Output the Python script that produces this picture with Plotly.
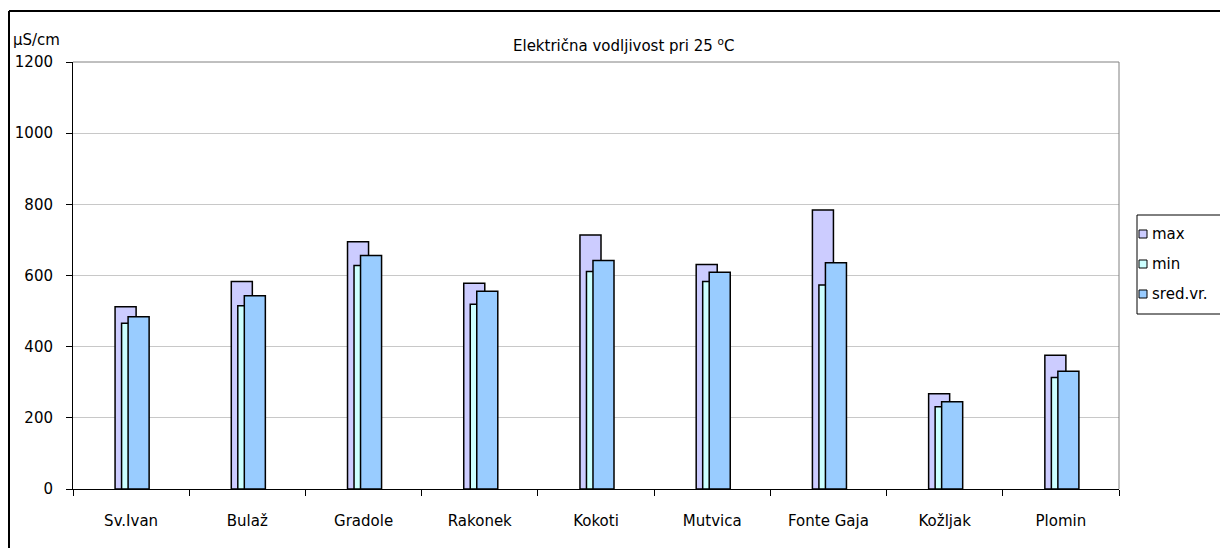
import plotly.graph_objects as go

categories = ["Sv.Ivan", "Bulaž", "Gradole", "Rakonek", "Kokoti", "Mutvica", "Fonte Gaja", "Kožljak", "Plomin"]
max_vals = [512, 583, 695, 578, 714, 631, 784, 268, 376]
min_vals = [466, 515, 628, 519, 611, 583, 573, 231, 313]
avg_vals = [484, 543, 656, 556, 642, 609, 636, 245, 331]
series_names = ["max", "min", "sred.vr."]
colors = ["#CCCCFF", "#CCFFFF", "#99CCFF"]
y_ticks = [0, 200, 400, 600, 800, 1000, 1200]

# page has an 8px body margin; work in reference pixel coords and shift
SH = 8
W, H = 1228 - SH, 548 - SH
L, R, T, B = 73 - SH, 1119 - SH, 62 - SH, 489 - SH


def px(x):
    return (x - SH - L) / (R - L)


def py(y):
    return (B - (y - SH)) / (B - T)


FONT = "DejaVu Sans"
FS = 15
fig = go.Figure()
bar_w = 0.181
offsets = [-0.138, -0.082, -0.026]
for name, vals, col, off in zip(series_names, [max_vals, min_vals, avg_vals], colors, offsets):
    fig.add_trace(go.Bar(
        x=categories, y=vals, name=name, width=bar_w, offset=off,
        marker=dict(color=col, line=dict(color="#000000", width=1.5)),
        showlegend=False,
    ))


def line(x0, y0, x1, y1, color="#000000", width=1):
    return dict(type="line", xref="paper", yref="paper", x0=px(x0), x1=px(x1),
                y0=py(y0), y1=py(y1), line=dict(color=color, width=width))


shapes = [
    # plot area frame top and right (gray)
    dict(type="line", xref="paper", yref="paper", x0=0, x1=1, y0=1, y1=1,
         line=dict(color="#808080", width=1)),
    dict(type="line", xref="paper", yref="paper", x0=1, x1=1, y0=0, y1=1,
         line=dict(color="#808080", width=1)),
    # outer chart border
    line(9, 11, 1240, 11, width=2),
    line(9, 11, 9, 560, width=2),
    # legend box (open on the right, it runs off the image)
    line(1137, 215, 1240, 215),
    line(1137, 314, 1240, 314),
    line(1137, 215, 1137, 314),
]
annotations = [
    dict(text="Električna vodljivost pri 25 <sup>o</sup>C", x=px(624), y=py(45),
         xref="paper", yref="paper", showarrow=False, font=dict(size=FS),
         xanchor="center", yanchor="middle"),
    dict(text="µS/cm", x=px(11), y=py(40), xref="paper", yref="paper",
         showarrow=False, font=dict(size=FS), xanchor="left", yanchor="middle"),
]
leg_y = [234, 264, 294]
for name, col, yy in zip(series_names, colors, leg_y):
    shapes.append(dict(type="rect", xref="paper", yref="paper",
                       x0=px(1139), x1=px(1147), y0=py(yy + 4), y1=py(yy - 4),
                       line=dict(color="#000000", width=1), fillcolor=col))
    annotations.append(dict(text=name, x=px(1150), y=py(yy), xref="paper", yref="paper",
                            showarrow=False, font=dict(size=FS), xanchor="left",
                            yanchor="middle"))

fig.update_layout(
    width=W, height=H,
    margin=dict(l=L, r=W - R, t=T, b=H - B, pad=0, autoexpand=False),
    barmode="overlay",
    paper_bgcolor="white", plot_bgcolor="white",
    font=dict(family=FONT, size=FS, color="#000000"),
    showlegend=False,
    xaxis=dict(type="category", showline=True, linecolor="#000000", linewidth=1,
               ticks="outside", ticklen=6, tickcolor="#000000", tickson="boundaries",
               showgrid=False, tickfont=dict(size=FS), range=[-0.5, 8.5],
               ticklabelstandoff=18, automargin=False),
    yaxis=dict(range=[0, 1200], tickvals=y_ticks, showline=True, linecolor="#000000",
               linewidth=1, ticks="outside", ticklen=6, tickcolor="#000000",
               showgrid=True, gridcolor="#C8C8C8", gridwidth=1, zeroline=False,
               tickfont=dict(size=FS), ticklabelstandoff=10, automargin=False),
    shapes=shapes,
    annotations=annotations,
)

fig.write_html("out.html")
